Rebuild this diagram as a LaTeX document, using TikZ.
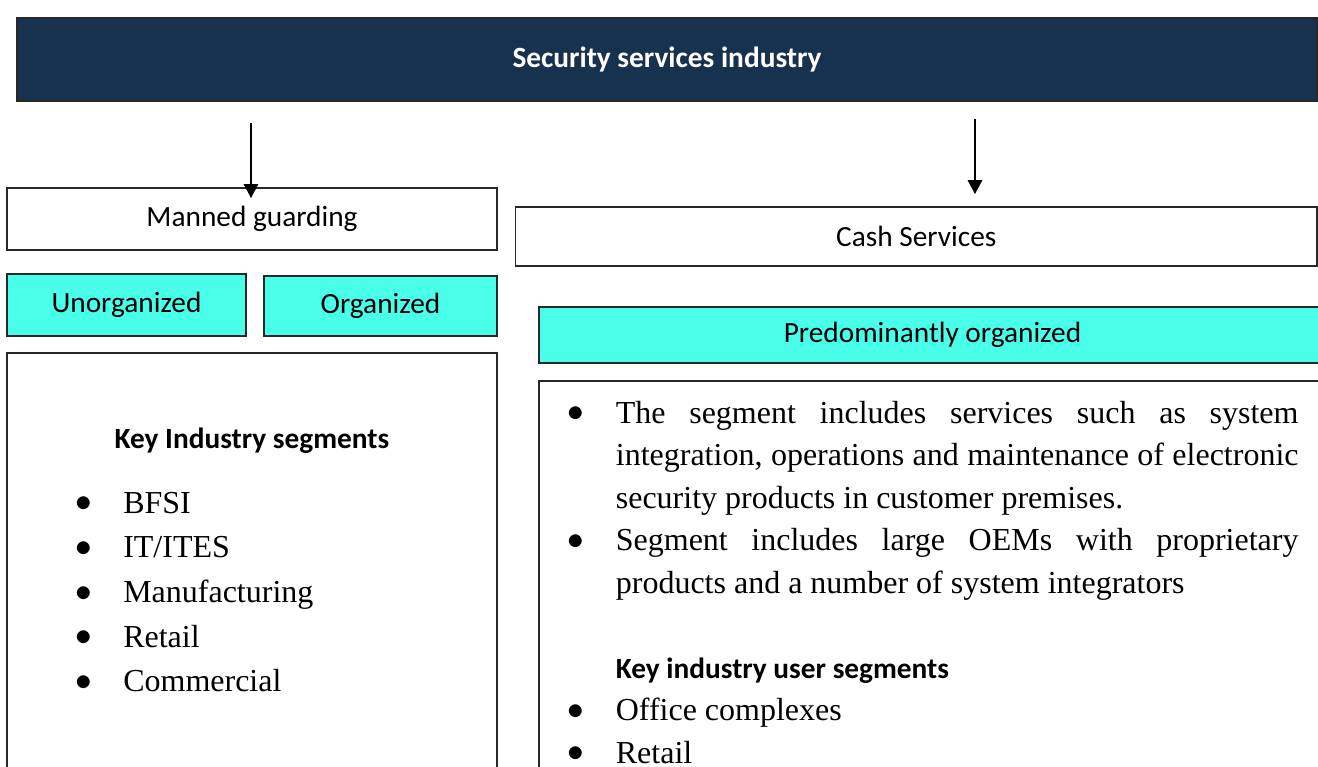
\documentclass[tikz,border=0pt]{standalone}
\usepackage{fontspec}
\setmainfont{Liberation Serif}
\newfontfamily\calibri{Carlito}
\usetikzlibrary{arrows.meta}
\definecolor{navy}{RGB}{23,50,78}
\definecolor{aqua}{RGB}{74,255,234}
\definecolor{edge}{RGB}{40,40,40}
% bullet with a fixed hanging gap before the item text
\newcommand\bul{\makebox[36pt][l]{\raisebox{1pt}{$\bullet$}}}
\tikzset{
  box/.style={draw=edge, line width=1pt, inner sep=0pt, outer sep=0pt,
    font=\calibri\fontsize{22}{26}\selectfont},
  titlebox/.style={box, fill=navy, text=white,
    font=\calibri\bfseries\fontsize{22}{26}\selectfont},
  tag/.style={box, fill=aqua},
  heading/.style={inner sep=0pt, font=\calibri\bfseries\fontsize{22}{26}\selectfont},
  arr/.style={draw=black, line width=0.8pt, -{Triangle[length=10.5pt,width=11pt]}},
}
\begin{document}
\begin{tikzpicture}[x=0.75pt,y=-0.75pt]
\clip (0,0) rectangle (1318,767);
\fill[white] (0,0) rectangle (1318,767);

% header bar
\node[titlebox, minimum width=1300*0.75pt, minimum height=83*0.75pt] (top) at (667,59.5) {Security services industry};

% left branch
\node[box, minimum width=490*0.75pt, minimum height=62*0.75pt] (manned) at (252,219) {Manned guarding};
\node[tag, minimum width=239*0.75pt, minimum height=62*0.75pt] (unorg) at (126.5,305) {Unorganized};
\node[tag, minimum width=233*0.75pt, minimum height=60*0.75pt] (org) at (380.5,306) {Organized};
\node[box, minimum width=490*0.75pt, minimum height=447*0.75pt] (leftbody) at (252,576.5) {};
\node[heading, anchor=base] (kis) at (252,448) {Key Industry segments};
\node[anchor=base west, inner sep=0pt, font=\fontsize{24}{33.56}\selectfont] (seglist) at (75,513)
  {\begin{tabular}[t]{@{}l@{}l@{}}
   \bul & BFSI\\
   \bul & IT/ITES\\
   \bul & Manufacturing\\
   \bul & Retail\\
   \bul & Commercial
   \end{tabular}};

% right branch
\node[box, minimum width=801.5*0.75pt, minimum height=59*0.75pt] (cash) at (916.25,236.5) {Cash Services};
\node[tag, minimum width=787*0.75pt, minimum height=56*0.75pt] (pred) at (932.5,335) {Predominantly organized};
\node[box, minimum width=801*0.75pt, minimum height=419*0.75pt] (rightbody) at (939.5,590.5) {};
\node[anchor=base west, inner sep=0pt, font=\fontsize{24}{31.875}\selectfont] (desc) at (567.6,423)
  {\begin{tabular}[t]{@{}l@{}l@{}}
   \bul & \makebox[512pt][s]{The segment includes services such as system}\\
        & \makebox[512pt][s]{integration, operations and maintenance of electronic}\\
        & security products in customer premises.\\
   \bul & \makebox[512pt][s]{Segment includes large OEMs with proprietary}\\
        & products and a number of system integrators\\
        & \\
        & {\calibri\bfseries\fontsize{22}{31.875}\selectfont Key industry user segments}\\
   \bul & Office complexes\\
   \bul & Retail
   \end{tabular}};

% connectors from the header
\coordinate (mx) at (251,0);
\coordinate (cx) at (975,0);
\draw[arr, shorten <=16.5pt, shorten >=-7.5pt] (top.south -| mx) -- (manned.north -| mx);
\draw[arr, shorten <=13.5pt, shorten >=9.75pt] (top.south -| cx) -- (cash.north -| cx);
\end{tikzpicture}
\end{document}
